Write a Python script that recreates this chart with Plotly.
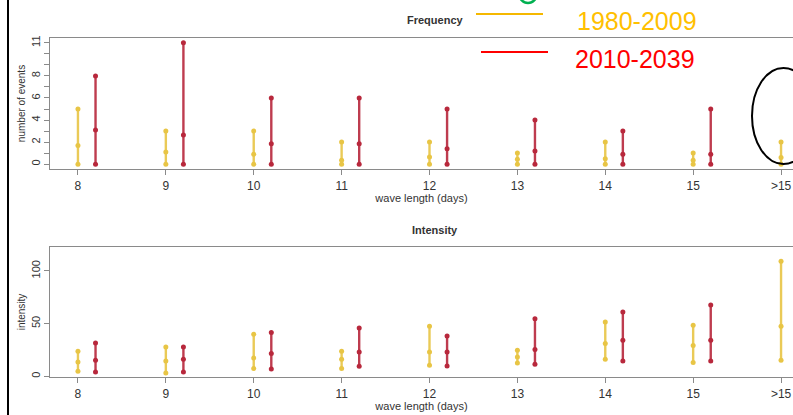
import plotly.graph_objects as go

W, H = 793, 415

categories = ["8", "9", "10", "11", "12", "13", "14", "15", ">15"]

# Frequency (number of events): min, median, max
freq_hist_min = [0, 0, 0, 0, 0, 0, 0, 0, 0]
freq_hist_med = [1.7, 1.1, 0.9, 0.35, 0.65, 0.45, 0.5, 0.35, 0.6]
freq_hist_max = [5, 3, 3, 2, 2, 1, 2, 1, 2]
freq_fut_min = [0, 0, 0, 0, 0, 0, 0, 0]
freq_fut_med = [3.1, 2.65, 1.85, 1.85, 1.4, 1.2, 0.9, 0.9]
freq_fut_max = [8, 11, 6, 6, 5, 4, 3, 5]

# Intensity: min, median, max
int_hist_min = [4.7, 3.2, 7.3, 7.3, 10.4, 12.7, 16.1, 13.0, 15.2]
int_hist_med = [13.6, 14.6, 17.4, 16.1, 23.1, 18.4, 31.0, 29.1, 47.5]
int_hist_max = [23.7, 27.8, 39.9, 23.7, 47.5, 24.7, 51.6, 48.4, 109.2]
int_fut_min = [4.1, 4.1, 7.0, 9.5, 9.8, 11.4, 14.6, 14.6]
int_fut_med = [15.2, 16.1, 21.5, 23.1, 23.1, 25.3, 34.2, 34.2]
int_fut_max = [31.6, 27.8, 41.5, 45.9, 38.3, 54.7, 61.0, 67.7]

freq_ticks = list(range(0, 12))
freq_ticklabels = ["0", "", "2", "", "4", "", "6", "", "8", "", "", "11"]
int_ticks = [0, 50, 100]
int_ticklabels = ["0", "50", "100"]

YELLOW = "#E8C545"
RED = "#B8283C"
AXC = "#8a8a8a"
TXT = "#333333"
FONT = "Liberation Sans, Arial, sans-serif"

fig = go.Figure()


def add_series(xa, ya, mins, meds, maxs, offset, color):
    xs, ys, mx, my = [], [], [], []
    for i, (lo, md, hi) in enumerate(zip(mins, meds, maxs)):
        xi = i + offset
        xs += [xi, xi, None]
        ys += [lo, hi, None]
        mx += [xi, xi, xi]
        my += [lo, md, hi]
    fig.add_trace(go.Scatter(x=xs, y=ys, mode="lines", xaxis=xa, yaxis=ya,
                             line=dict(color=color, width=2.4), opacity=0.9,
                             showlegend=False, hoverinfo="skip"))
    fig.add_trace(go.Scatter(x=mx, y=my, mode="markers", xaxis=xa, yaxis=ya,
                             marker=dict(color=color, size=5, symbol="circle"),
                             showlegend=False))


add_series("x", "y", freq_hist_min, freq_hist_med, freq_hist_max, 0.0, YELLOW)
add_series("x", "y", freq_fut_min, freq_fut_med, freq_fut_max, 0.2, RED)
add_series("x2", "y2", int_hist_min, int_hist_med, int_hist_max, 0.0, YELLOW)
add_series("x2", "y2", int_fut_min, int_fut_med, int_fut_max, 0.2, RED)


def px(x):
    return x / W


def py(y):
    return 1 - y / H


xr = [-0.318, 8.136]
xdom = [px(50), 1.0]

xcommon = dict(range=xr, domain=xdom, tickmode="array", automargin=False,
               tickvals=list(range(len(categories))), ticktext=categories,
               showgrid=False, zeroline=False, showline=True, linecolor=AXC,
               linewidth=1.2, mirror=True, ticks="outside", ticklen=5,
               tickcolor=AXC, tickfont=dict(family=FONT, size=12, color=TXT),
               title=dict(text="wave length (days)", standoff=0,
                          font=dict(family=FONT, size=11, color=TXT)))

ycommon = dict(tickmode="array", tickangle=-90, showgrid=False, zeroline=False,
               showline=True, automargin=False, linecolor=AXC, linewidth=1.2,
               ticks="outside", ticklen=5, tickcolor=AXC,
               tickfont=dict(family=FONT, size=11, color=TXT))

fig.update_layout(
    width=W, height=H,
    margin=dict(l=0, r=0, t=0, b=0, autoexpand=False),
    paper_bgcolor="white", plot_bgcolor="white",
    showlegend=False,
    xaxis=dict(xcommon, anchor="y"),
    yaxis=dict(ycommon, domain=[py(169), py(38)], range=[-0.44, 11.44],
               anchor="x", tickvals=freq_ticks, ticktext=freq_ticklabels,
               title=dict(text="number of events", standoff=2,
                          font=dict(family=FONT, size=10, color=TXT))),
    xaxis2=dict(xcommon, anchor="y2"),
    yaxis2=dict(ycommon, domain=[py(377), py(247)], range=[-0.7, 122.7],
                anchor="x2", tickvals=int_ticks, ticktext=int_ticklabels,
                title=dict(text="intensity", standoff=2,
                           font=dict(family=FONT, size=10, color=TXT))),
)


def label(x, y, text, size, color):
    fig.add_annotation(x=px(x), y=py(y), xref="paper", yref="paper",
                       xanchor="center", yanchor="middle", text=text,
                       showarrow=False,
                       font=dict(family=FONT, size=size, color=color))


# panel titles
label(435, 20, "<b>Frequency</b>", 11, TXT)
label(435, 230, "<b>Intensity</b>", 11, TXT)

# legend-like overlay
fig.add_shape(type="line", xref="paper", yref="paper", x0=px(476), x1=px(543),
              y0=py(14), y1=py(14), line=dict(color="#F5B800", width=2))
fig.add_shape(type="line", xref="paper", yref="paper", x0=px(481), x1=px(548),
              y0=py(52), y1=py(52), line=dict(color="#FF0000", width=2))
label(637, 21, "1980-2009", 25, "#FFC000")
label(635, 59, "2010-2039", 25, "#FF0000")

# green circle (cut at top)
fig.add_shape(type="circle", xref="paper", yref="paper", x0=px(519), x1=px(537),
              y0=py(3), y1=py(-16), line=dict(color="#00B050", width=2.5))
# black ellipse around >15
fig.add_shape(type="circle", xref="paper", yref="paper", x0=px(752), x1=px(815),
              y0=py(164), y1=py(68), line=dict(color="black", width=2))
# left frame line
fig.add_shape(type="line", xref="paper", yref="paper", x0=px(8), x1=px(8),
              y0=0, y1=1, line=dict(color="black", width=2))

fig.write_html("out.html", config={"displayModeBar": False},
               post_script="document.body.style.margin='0';"
                           "document.body.style.overflow='hidden';")
